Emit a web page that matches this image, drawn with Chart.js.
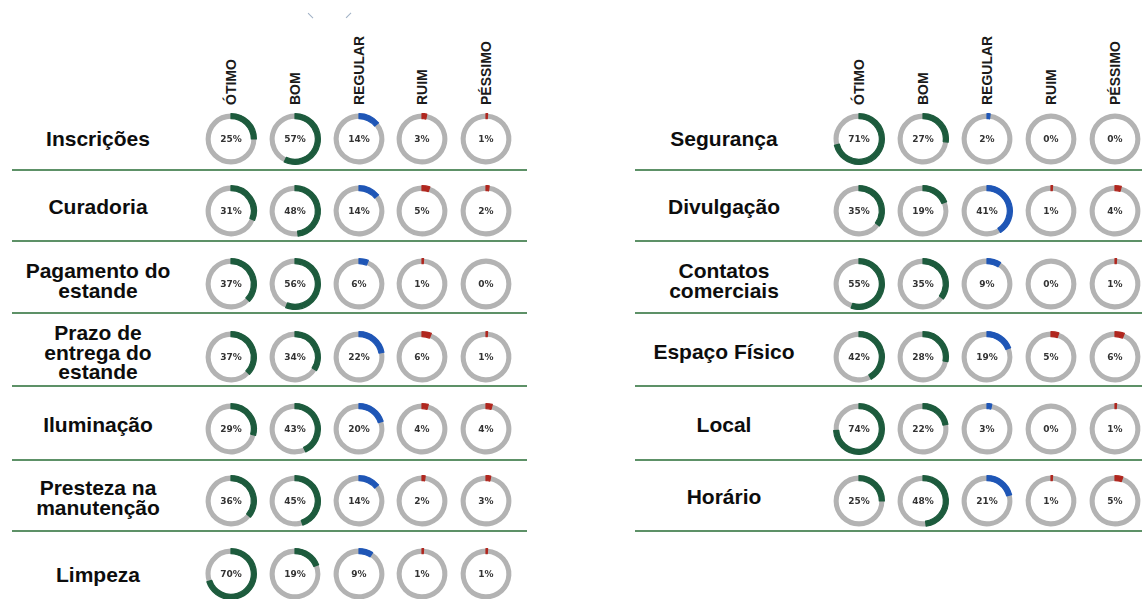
<!DOCTYPE html>
<html><head><meta charset="utf-8">
<script src="https://cdn.jsdelivr.net/npm/chart.js@4/dist/chart.umd.min.js"></script>
<style>
html,body{margin:0;padding:0;background:#fff;}
#root{position:relative;width:1142px;height:599px;overflow:hidden;font-family:'Liberation Sans',Arial,sans-serif;}
.lbl{position:absolute;transform:translate(-50%,-50%);text-align:center;white-space:pre;font-weight:bold;font-size:21px;line-height:19.5px;color:#0d0d0d;}
.hdr{position:absolute;transform-origin:0 0;transform:rotate(-90deg) translate(0,-50%);font-weight:bold;font-size:14px;line-height:14px;color:#1a1a1a;white-space:nowrap;}
.sep{position:absolute;height:2px;background:#5d9167;}
.tick{position:absolute;width:1.3px;height:7px;background:#9fb0c4;}
canvas.d{position:absolute;}
</style></head><body><div id="root"></div>
<script>
// ---- data ----
const ratingLabels = ['ÓTIMO', 'BOM', 'REGULAR', 'RUIM', 'PÉSSIMO'];

const leftCategories = ['Inscrições', 'Curadoria', 'Pagamento do\nestande', 'Prazo de\nentrega do\nestande', 'Iluminação', 'Presteza na\nmanutenção', 'Limpeza'];
const otimoLeft   = [25, 31, 37, 37, 29, 36, 70];
const bomLeft     = [57, 48, 56, 34, 43, 45, 19];
const regularLeft = [14, 14, 6, 22, 20, 14, 9];
const ruimLeft    = [3, 5, 1, 6, 4, 2, 1];
const pessimoLeft = [1, 2, 0, 1, 4, 3, 1];

const rightCategories = ['Segurança', 'Divulgação', 'Contatos\ncomerciais', 'Espaço Físico', 'Local', 'Horário'];
const otimoRight   = [71, 35, 55, 42, 74, 25];
const bomRight     = [27, 19, 35, 28, 22, 48];
const regularRight = [2, 41, 9, 19, 3, 21];
const ruimRight    = [0, 1, 0, 5, 0, 1];
const pessimoRight = [0, 4, 1, 6, 1, 5];

// ---- styles / layout ----
const GRAY = '#b3b3b3';
const ratingColors = ['#1d5b3d', '#1d5b3d', '#1f56b6', '#b0271f', '#b0271f'];
const layout = {
  left:  {labelX: 98,  colX0: 231,   colStep: 63.8, lineX0: 12,  lineX1: 527},
  right: {labelX: 724, colX0: 858.5, colStep: 64,   lineX0: 635, lineX1: 1142},
  rowY:   [139, 211, 284, 357, 429, 501, 574],
  labelY: [139, 207, 280, 352, 425, 497, 575],
  sepY:   [169, 240, 312, 385, 459, 530],
  headerBottom: 105
};

const root = document.getElementById('root');

const centerTextPlugin = {
  id: 'centerText',
  afterDatasetsDraw(chart, args, opts) {
    const a = chart.getDatasetMeta(0).data[0];
    const ctx = chart.ctx;
    ctx.save();
    ctx.font = 'bold 9px "DejaVu Sans", sans-serif';
    ctx.fillStyle = '#333333';
    ctx.textAlign = 'center';
    ctx.textBaseline = 'middle';
    ctx.fillText(opts.text, a.x, a.y + 0.5);
    ctx.restore();
  }
};

function makeDonut(cx, cy, value, color) {
  const size = 54;
  const c = document.createElement('canvas');
  c.width = size; c.height = size; c.className = 'd';
  c.style.left = (cx - size / 2) + 'px';
  c.style.top = (cy - size / 2) + 'px';
  c.style.width = size + 'px'; c.style.height = size + 'px';
  root.appendChild(c);
  new Chart(c, {
    type: 'doughnut',
    data: {
      labels: ['resto', 'valor'],
      datasets: [{
        data: [100 - value, value],
        backgroundColor: [GRAY, color],
        borderColor: [GRAY, color],
        borderWidth: [0, value > 0 ? 1.2 : 0],
        borderJoinStyle: 'round'
      }]
    },
    options: {
      responsive: false,
      animation: false,
      events: [],
      rotation: value * 3.6,
      cutout: '80%',
      radius: 25.4,
      layout: {padding: 0},
      plugins: {legend: {display: false}, tooltip: {enabled: false}, centerText: {text: value + '%'}}
    },
    plugins: [centerTextPlugin]
  });
}

function addDiv(cls, style, text) {
  const d = document.createElement('div');
  d.className = cls;
  Object.assign(d.style, style);
  if (text !== undefined) d.textContent = text;
  root.appendChild(d);
  return d;
}

function buildPanel(p, categories, series) {
  ratingLabels.forEach((h, j) => {
    addDiv('hdr', {left: (p.colX0 + j * p.colStep) + 'px', top: layout.headerBottom + 'px'}, h);
  });
  for (let i = 0; i < categories.length && i < layout.sepY.length; i++) {
    addDiv('sep', {left: p.lineX0 + 'px', width: (p.lineX1 - p.lineX0) + 'px', top: layout.sepY[i] + 'px'});
  }
  categories.forEach((cat, i) => {
    addDiv('lbl', {left: p.labelX + 'px', top: layout.labelY[i] + 'px'}, cat);
    series.forEach((s, j) => {
      makeDonut(p.colX0 + j * p.colStep, layout.rowY[i], s[i], ratingColors[j]);
    });
  });
}

buildPanel(layout.left, leftCategories, [otimoLeft, bomLeft, regularLeft, ruimLeft, pessimoLeft]);
buildPanel(layout.right, rightCategories, [otimoRight, bomRight, regularRight, ruimRight, pessimoRight]);

// small cropped decoration at the top
addDiv('tick', {left: '310px', top: '12px', transform: 'rotate(-45deg)'});
addDiv('tick', {left: '348px', top: '12px', transform: 'rotate(45deg)'});
</script>
</body></html>
